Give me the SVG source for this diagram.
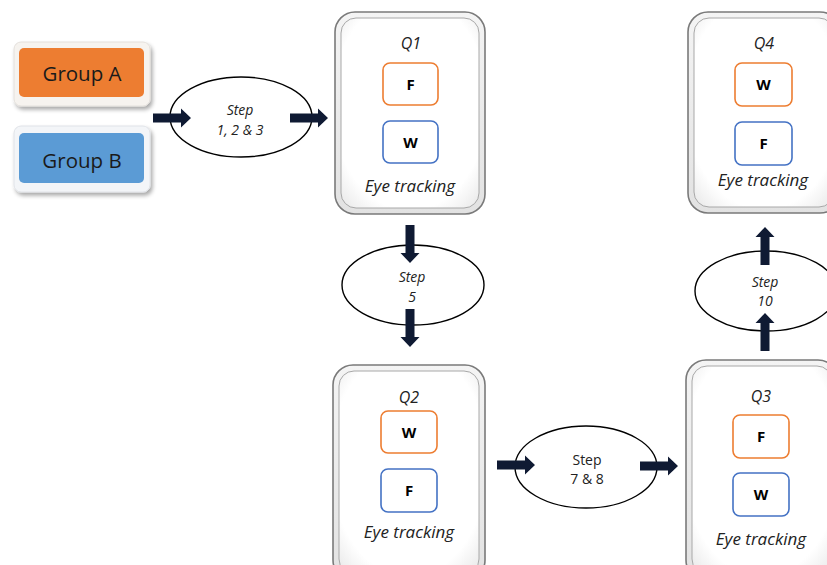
<svg xmlns="http://www.w3.org/2000/svg" width="827" height="565" viewBox="0 0 827 565">
<defs>
<linearGradient id="bevel" x1="0" y1="0" x2="0" y2="1">
<stop offset="0" stop-color="#f4f4f4"/>
<stop offset="1" stop-color="#e2e2e2"/>
</linearGradient>
<radialGradient id="inner" cx="0.5" cy="0.45" r="0.75">
<stop offset="0.75" stop-color="#ffffff"/>
<stop offset="1" stop-color="#e6e6e6"/>
</radialGradient>
<filter id="sh" x="-10%" y="-10%" width="130%" height="130%">
<feGaussianBlur in="SourceAlpha" stdDeviation="2"/>
<feOffset dx="2" dy="3"/>
<feComponentTransfer><feFuncA type="linear" slope="0.35"/></feComponentTransfer>
<feMerge><feMergeNode/><feMergeNode in="SourceGraphic"/></feMerge>
</filter>
<path id="arr" d="M0,-4.5 L28,-4.5 L28,-9.5 L38,0 L28,9.5 L28,4.5 L0,4.5 Z"/>
</defs>
<style>
.qo{fill:url(#bevel);stroke:#7a7a7a;stroke-width:1.6}
.qi{fill:url(#inner);stroke:#a8a8a8;stroke-width:1}
.bo{fill:#fff;stroke:#ED7D31;stroke-width:1.6}
.bb{fill:#fff;stroke:#4472C4;stroke-width:1.6}
.ell{fill:#fff;stroke:#000;stroke-width:1.4}
.fw{font-family:"Open Sans","Liberation Sans",sans-serif;font-weight:bold;font-size:15px;fill:#000;text-anchor:middle}
.q{font-family:"Open Sans","Liberation Sans",sans-serif;font-style:italic;font-size:16px;fill:#222;text-anchor:middle}
.et{font-family:"Open Sans","Liberation Sans",sans-serif;font-style:italic;font-size:17px;fill:#222;text-anchor:middle}
.st{font-family:"Open Sans","Liberation Sans",sans-serif;font-style:italic;font-size:14px;fill:#222;text-anchor:middle}
.sn{font-family:"Open Sans","Liberation Sans",sans-serif;font-size:14px;fill:#222;text-anchor:middle}
.g{font-family:"Open Sans","Liberation Sans",sans-serif;font-size:20.5px;fill:#1a1a1a;text-anchor:middle}
.a{fill:#0f1a33}
</style>

<g id="groupA">
<rect x="14" y="42" width="136" height="64" rx="7" fill="#f6f3ef" stroke="#e4e0dc" stroke-width="1" filter="url(#sh)"/>
<rect x="19" y="48" width="125" height="49" rx="5" fill="#ED7D31"/>
<text class="g" x="82" y="81">Group A</text>
</g>
<g id="groupB">
<rect x="14" y="126" width="136" height="66" rx="7" fill="#f3f5f8" stroke="#e0e3e8" stroke-width="1" filter="url(#sh)"/>
<rect x="19" y="133" width="125" height="50" rx="5" fill="#5B9BD5"/>
<text class="g" x="82" y="168">Group B</text>
</g>

<g id="step123">
<ellipse class="ell" cx="241" cy="117" rx="71" ry="40"/>
<text class="st" x="240" y="115">Step</text>
<text class="st" x="240" y="135">1, 2 &amp; 3</text>
</g>

<g id="q1">
<rect class="qo" x="335" y="12" width="150" height="202" rx="20"/>
<rect class="qi" x="341" y="18" width="138" height="190" rx="15"/>
<text class="q" x="411" y="49">Q1</text>
<rect class="bo" x="383" y="63" width="55" height="42" rx="7"/>
<text class="fw" x="410.5" y="89.5">F</text>
<rect class="bb" x="383" y="121" width="55" height="42" rx="7"/>
<text class="fw" x="410.5" y="147.5">W</text>
<text class="et" x="410" y="192">Eye tracking</text>
</g>

<g id="step5">
<ellipse class="ell" cx="413" cy="285" rx="71" ry="40"/>
<text class="st" x="412" y="282">Step</text>
<text class="st" x="412" y="302">5</text>
</g>

<g id="q2">
<rect class="qo" x="333" y="365" width="152" height="215" rx="20"/>
<rect class="qi" x="339" y="371" width="140" height="203" rx="15"/>
<text class="q" x="409" y="403">Q2</text>
<rect class="bo" x="381" y="411" width="56" height="42" rx="7"/>
<text class="fw" x="409" y="437.5">W</text>
<rect class="bb" x="381" y="469" width="56" height="43" rx="7"/>
<text class="fw" x="409" y="496">F</text>
<text class="et" x="409" y="538">Eye tracking</text>
</g>

<g id="step78">
<ellipse class="ell" cx="586" cy="467" rx="71" ry="41"/>
<text class="sn" x="587" y="465">Step</text>
<text class="sn" x="587" y="484">7 &amp; 8</text>
</g>

<g id="q3">
<rect class="qo" x="686" y="360" width="152" height="220" rx="20"/>
<rect class="qi" x="692" y="366" width="140" height="208" rx="15"/>
<text class="q" x="761" y="402">Q3</text>
<rect class="bo" x="733" y="415" width="56" height="43" rx="7"/>
<text class="fw" x="761" y="442">F</text>
<rect class="bb" x="733" y="473" width="56" height="43" rx="7"/>
<text class="fw" x="761" y="500">W</text>
<text class="et" x="761" y="545">Eye tracking</text>
</g>

<g id="step10">
<ellipse class="ell" cx="766" cy="291" rx="71" ry="40"/>
<text class="st" x="765" y="287">Step</text>
<text class="st" x="765" y="306">10</text>
</g>

<g id="q4">
<rect class="qo" x="688" y="12" width="152" height="201" rx="20"/>
<rect class="qi" x="694" y="18" width="140" height="189" rx="15"/>
<text class="q" x="764" y="49">Q4</text>
<rect class="bo" x="735" y="63" width="57" height="43" rx="7"/>
<text class="fw" x="763.5" y="90">W</text>
<rect class="bb" x="735" y="122" width="57" height="43" rx="7"/>
<text class="fw" x="763.5" y="149">F</text>
<text class="et" x="763" y="186">Eye tracking</text>
</g>

<g id="connectors">
<use href="#arr" class="a" transform="translate(153,118)"/>
<use href="#arr" class="a" transform="translate(290,118)"/>
<use href="#arr" class="a" transform="translate(410,225) rotate(90)"/>
<use href="#arr" class="a" transform="translate(410,309) rotate(90)"/>
<use href="#arr" class="a" transform="translate(497,465)"/>
<use href="#arr" class="a" transform="translate(640,466)"/>
<use href="#arr" class="a" transform="translate(765,351) rotate(-90)"/>
<use href="#arr" class="a" transform="translate(765,265) rotate(-90)"/>
</g>
</svg>
